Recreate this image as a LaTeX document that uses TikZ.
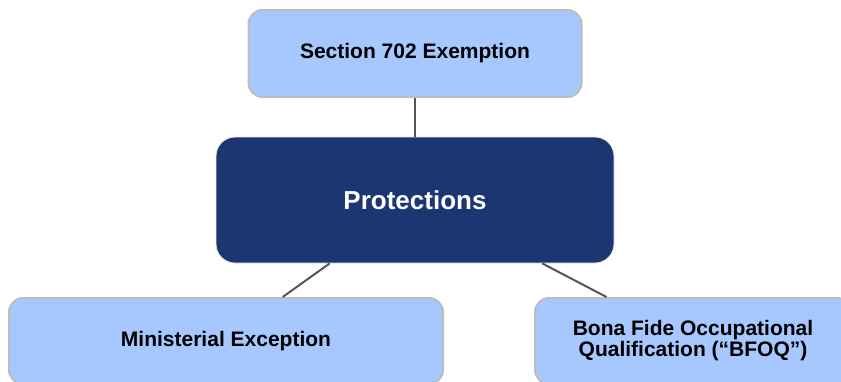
\documentclass[tikz,border=0pt]{standalone}
\usepackage{fontspec}
\setmainfont{Liberation Sans}
\usepackage{tikz}
\usetikzlibrary{calc}
\definecolor{ljusbla}{HTML}{A6C8FF}
\definecolor{marin}{HTML}{1C3672}
\definecolor{kant}{HTML}{BDBDBD}
\definecolor{linje}{HTML}{555555}

\tikzset{
  ljusruta/.style={draw=kant, line width=2pt, fill=ljusbla, rounded corners=14pt,
    inner sep=0pt, align=center, font=\fontsize{21}{21}\selectfont\bfseries},
  morkruta/.style={draw=blue!8, line width=0.8pt, fill=marin, rounded corners=19pt,
    inner sep=0pt, text=white, font=\fontsize{26}{26}\selectfont\bfseries},
  gren/.style={draw=linje, line width=2pt}
}

\begin{document}
\begin{tikzpicture}[x=1pt, y=-1pt]
\useasboundingbox (0,0) rectangle (841,381);
\node[ljusruta, minimum width=333pt, minimum height=87pt] (sek) at (415,53.5) {Section 702 Exemption};
\node[morkruta, minimum width=398pt, minimum height=126pt] (skydd) at (415,200) {Protections};
\node[ljusruta, minimum width=434pt, minimum height=86pt] (min) at (226,341) {Ministerial Exception};
\node[ljusruta, minimum width=316pt, minimum height=86pt] (bfoq) at (693,341) {Bona Fide Occupational\\Qualification (“BFOQ”)};
\draw[gren] (sek.south) -- (skydd.north);
\draw[gren] ($(skydd.south west)!0.286!(skydd.south east)$) -- ($(min.north west)!0.63!(min.north east)$);
\draw[gren] ($(skydd.south west)!0.819!(skydd.south east)$) -- ($(bfoq.north west)!0.228!(bfoq.north east)$);
\end{tikzpicture}
\end{document}
